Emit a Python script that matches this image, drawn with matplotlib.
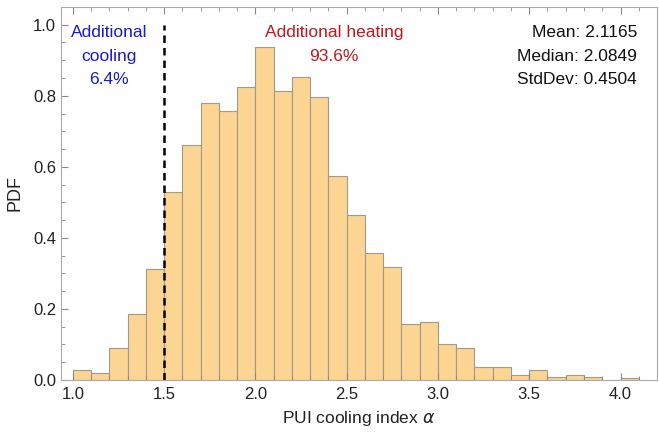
import matplotlib
matplotlib.use("Agg")
import matplotlib.pyplot as plt
from matplotlib.ticker import MultipleLocator
import numpy as np

bin_edges = [round(1.0 + 0.1 * i, 1) for i in range(32)]
pdf_values = [0.028, 0.020, 0.090, 0.186, 0.312, 0.528, 0.660, 0.780, 0.757, 0.825,
              0.938, 0.814, 0.853, 0.797, 0.574, 0.465, 0.357, 0.318, 0.157, 0.162,
              0.100, 0.090, 0.037, 0.037, 0.015, 0.027, 0.009, 0.015, 0.009, 0.0, 0.005]
threshold = 1.5
cooling_label = "Additional\ncooling\n6.4%"
heating_label = "Additional heating\n93.6%"
stats_label = "Mean: 2.1165\nMedian: 2.0849\nStdDev: 0.4504"

plt.rcParams['font.family'] = ['Liberation Sans', 'DejaVu Sans']

fig = plt.figure(figsize=(6.59, 4.33), dpi=100)
ax = fig.add_axes([0.0926, 0.1224, 0.9044, 0.8616])

lefts = np.array(bin_edges[:-1])
widths = np.diff(bin_edges)
ax.bar(lefts, pdf_values, width=widths, align='edge', color='#FDD592',
       edgecolor='#a09a8c', linewidth=0.8)

ax.plot([threshold, threshold], [0, 1.0], color='black', linestyle=(0, (3, 2)), linewidth=1.8)

ax.set_xlim(0.935, 4.2)
ax.set_ylim(0, 1.05)
ax.xaxis.set_major_locator(MultipleLocator(0.5))
ax.xaxis.set_minor_locator(MultipleLocator(0.1))
ax.yaxis.set_major_locator(MultipleLocator(0.2))
ax.yaxis.set_minor_locator(MultipleLocator(0.05))
ax.xaxis.set_major_formatter(plt.FuncFormatter(lambda v, p: f"{v:.1f}"))
ax.yaxis.set_major_formatter(plt.FuncFormatter(lambda v, p: f"{v:.1f}"))
ax.tick_params(which='both', direction='in', top=True, right=False, color='#888888',
               labelsize=12, labelcolor='#222222')
ax.tick_params(which='major', length=5, width=0.8)
ax.tick_params(which='minor', length=3, width=0.6)
ax.tick_params(axis='x', pad=5)
for s in ax.spines.values():
    s.set_color('#aaaaaa')
    s.set_linewidth(0.8)

ax.set_xlabel(r"PUI cooling index $\alpha$", fontsize=12.5, color='#222222', labelpad=5)
ax.set_ylabel("PDF", fontsize=13, color='#222222', labelpad=7)

ax.text(1.20, 0.998, cooling_label, color='#1a1acc', fontsize=12.5, ha='center', va='top',
        linespacing=1.7)
ax.text(2.43, 0.998, heating_label, color='#c4161c', fontsize=12.5, ha='center', va='top',
        linespacing=1.7)
ax.text(4.09, 0.998, stats_label, color='#111111', fontsize=12.5, ha='right', va='top',
        linespacing=1.7)

fig.savefig("out.png", dpi=100)
